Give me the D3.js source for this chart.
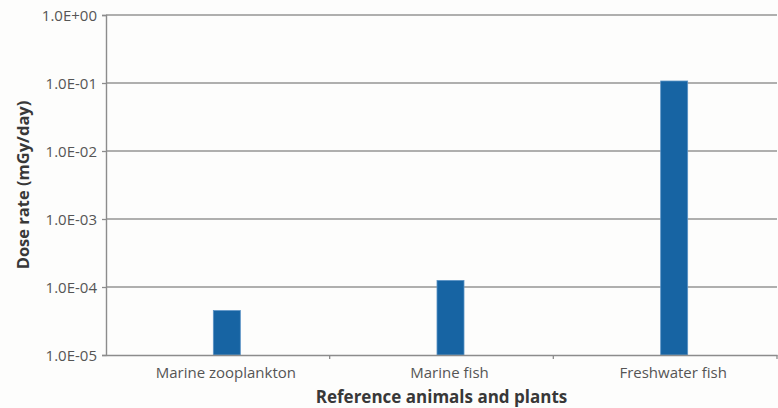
<!DOCTYPE html>
<html>
<head>
<meta charset="utf-8">
<script src="https://cdn.jsdelivr.net/npm/d3@7"></script>
<style>
  html, body { margin: 0; padding: 0; background: #fdfdfc; }
  svg { display: block; }
  text { font-family: "Open Sans", "Noto Sans", sans-serif; }
</style>
</head>
<body>
<svg id="chart" width="778" height="408"></svg>
<script>
// Dose rate per reference organism (mGy/day)
const categories = ["Marine zooplankton", "Marine fish", "Freshwater fish"];
const doseRates = [4.5e-5, 1.25e-4, 1.07e-1];
const yTicks = [1e-5, 1e-4, 1e-3, 1e-2, 1e-1, 1e0];

const svg = d3.select("#chart");
const W = 778, H = 408;
const margin = { top: 15, right: 1, bottom: 53, left: 106 };
const plotW = W - margin.left - margin.right;
const plotH = H - margin.top - margin.bottom;

const g = svg.append("g").attr("transform", `translate(${margin.left},${margin.top})`);

const x = d3.scaleBand().domain(categories).range([0, plotW]);
const y = d3.scaleLog().domain([1e-5, 1]).range([plotH, 0]);

const fmt = d => {
  const e = Math.round(Math.log10(d));
  const sign = e < 0 ? "-" : "+";
  return "1.0E" + sign + String(Math.abs(e)).padStart(2, "0");
};

// horizontal gridlines
g.append("g")
  .selectAll("line")
  .data(yTicks.filter(t => t > 1e-5))
  .join("line")
  .attr("x1", 0).attr("x2", plotW)
  .attr("y1", d => y(d)).attr("y2", d => y(d))
  .attr("stroke", "#959595").attr("stroke-width", 1.4);

// bars
const barW = 27;
g.append("g")
  .selectAll("rect")
  .data(categories.map((c, i) => ({ c, v: doseRates[i] })))
  .join("rect")
  .attr("x", d => x(d.c) + x.bandwidth() / 2 - barW / 2 + 9)
  .attr("width", barW)
  .attr("y", d => y(d.v))
  .attr("height", d => plotH - y(d.v))
  .attr("fill", "#1764a3")
  .attr("stroke", "#5b93c6")
  .attr("stroke-width", 0.8);

// y axis
const yAxis = g.append("g")
  .call(d3.axisLeft(y).tickValues(yTicks).tickFormat(fmt).tickSize(4).tickPadding(5));
yAxis.select(".domain").attr("stroke", "#8c8c8c").attr("stroke-width", 1.4);
yAxis.selectAll(".tick line").attr("stroke", "#8c8c8c").attr("stroke-width", 1.3);
yAxis.selectAll(".tick text")
  .attr("fill", "#555").style("font-size", "15px")
  .attr("dy", "0.35em");

// x axis
const xAxis = g.append("g")
  .attr("transform", `translate(0,${plotH})`)
  .call(d3.axisBottom(x).tickSize(0).tickPadding(12));
xAxis.select(".domain").attr("stroke", "#8c8c8c").attr("stroke-width", 1.4);
xAxis.selectAll(".tick text").attr("fill", "#555").style("font-size", "15px")
  .attr("transform", "translate(8,0)");

// category separators on the x axis
g.append("g")
  .selectAll("line")
  .data(categories.slice(1).concat(["__end"]))
  .join("line")
  .attr("x1", (d, i) => i < categories.length - 1 ? x(d) : plotW)
  .attr("x2", (d, i) => i < categories.length - 1 ? x(d) : plotW)
  .attr("y1", plotH).attr("y2", plotH + 4)
  .attr("stroke", "#8c8c8c").attr("stroke-width", 1.3);

// axis titles
svg.append("text")
  .attr("transform", `translate(23,${margin.top + plotH / 2}) rotate(-90)`)
  .attr("text-anchor", "middle")
  .attr("dy", "0.35em")
  .attr("fill", "#383838")
  .style("font-size", "16.5px").style("font-weight", "bold")
  .text("Dose rate (mGy/day)");

svg.append("text")
  .attr("x", margin.left + plotW / 2)
  .attr("y", 397)
  .attr("text-anchor", "middle")
  .attr("dy", "0.35em")
  .attr("fill", "#383838")
  .style("font-size", "17px").style("font-weight", "bold")
  .text("Reference animals and plants");
</script>
</body>
</html>
